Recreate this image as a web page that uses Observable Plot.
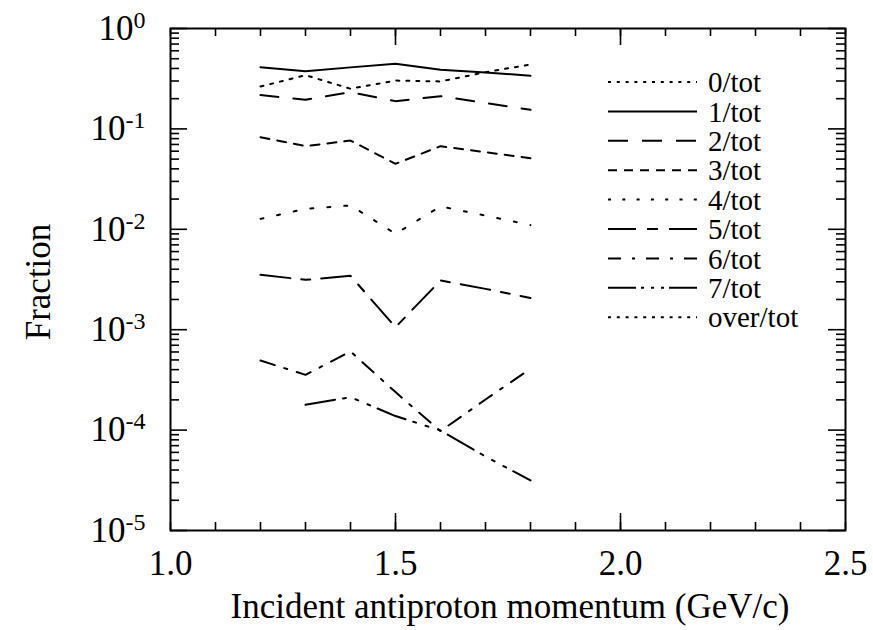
<!DOCTYPE html>
<html><head><meta charset="utf-8">
<script src="https://cdn.jsdelivr.net/npm/d3@7"></script>
<script src="https://cdn.jsdelivr.net/npm/@observablehq/plot@0.6"></script>
<style>
body{margin:0;background:#fff}
#chart{width:873px;height:630px}
</style>
</head><body><div id="chart"></div>
<script>
// ---- data ----
const momentum = [1.2, 1.3, 1.4, 1.5, 1.6, 1.7, 1.8];
const seriesNames = ["0/tot","1/tot","2/tot","3/tot","4/tot","5/tot","6/tot","7/tot","over/tot"];
const frac0 = [0.264, 0.343, 0.251, 0.303, 0.297, 0.367, 0.438];
const frac1 = [0.412, 0.376, 0.410, 0.445, 0.388, 0.365, 0.338];
const frac2 = [0.217, 0.195, 0.232, 0.189, 0.212, 0.181, 0.155];
const frac3 = [0.0827, 0.0673, 0.0766, 0.0449, 0.0673, 0.0586, 0.0511];
const frac4 = [0.0127, 0.0160, 0.0173, 0.00902, 0.0169, 0.0137, 0.0110];
const frac5 = [0.00352, 0.00314, 0.00344, 0.00106, 0.00309, 0.00255, 0.00207];
const frac6 = [0.000493, 0.000355, 0.000607, 0.000239, 0.0000976, 0.000202, 0.000408];
const frac7 = [null, 0.000179, 0.000213, 0.000138, 0.0000991, 0.0000546, 0.0000315];
const fracOver = [null, null, null, null, null, null, null];
const xTickValues = [1.0,1.1,1.2,1.3,1.4,1.5,1.6,1.7,1.8,1.9,2.0,2.1,2.2,2.3,2.4,2.5];
const xMajorTicks = [1.5, 2.0];
const xTickLabels = [1.0, 1.5, 2.0, 2.5];
const yExponents = [-5, -4, -3, -2, -1, 0];
const xTitle = "Incident antiproton momentum (GeV/c)";
const yTitle = "Fraction";

// ---- styles ----
const dashes = ["3,7", null, "18,15", "9,8", "3,14", "30,11,9,11", "15,10,3,10", "30,8,3,10,3,10,3,8", "3,7"];
const legendDashes = ["3,5.8", null, "20,14", "9,7", "3,11.3", "28,11,11,11", "13,11,3,11", "28,5,3,7,3,7,3,5", "3,5.8"];

const values = [frac0, frac1, frac2, frac3, frac4, frac5, frac6, frac7, fracOver];
const table = seriesNames.map((name, i) =>
  momentum.map((x, j) => ({series: name, x, y: values[i][j]})).filter(d => d.y != null));

const yMajor = yExponents.map(e => Math.pow(10, e));
const yMinor = yExponents.slice(0, -1).flatMap(e => d3.range(2, 10).map(k => k * Math.pow(10, e)));

const W = 873, H = 630, mL = 170, mR = 28, mT = 28, mB = 100;
const pw = W - mL - mR, ph = H - mT - mB;

const chart = Plot.plot({
  width: W, height: H,
  marginLeft: mL, marginRight: mR, marginTop: mT, marginBottom: mB,
  style: {fontFamily: "'Liberation Serif','Times New Roman',serif", fontSize: "35px", color: "black", background: "white", overflow: "visible"},
  x: {type: "linear", domain: [1.0, 2.5]},
  y: {type: "log", domain: [1e-5, 1]},
  marks: [
    // inward ticks, bottom & top
    Plot.tickX(xTickValues, {x: d => d, insetTop: ph - 8, strokeWidth: 1.6}),
    Plot.tickX(xTickValues, {x: d => d, insetBottom: ph - 8, strokeWidth: 1.6}),
    Plot.tickX(xMajorTicks, {x: d => d, insetTop: ph - 17, strokeWidth: 1.6}),
    Plot.tickX(xMajorTicks, {x: d => d, insetBottom: ph - 17, strokeWidth: 1.6}),
    // inward ticks, left & right
    Plot.tickY(yMinor, {y: d => d, insetRight: pw - 9, strokeWidth: 1.6}),
    Plot.tickY(yMinor, {y: d => d, insetLeft: pw - 9, strokeWidth: 1.6}),
    Plot.tickY(yMajor, {y: d => d, insetRight: pw - 17, strokeWidth: 1.6}),
    Plot.tickY(yMajor, {y: d => d, insetLeft: pw - 17, strokeWidth: 1.6}),
    Plot.axisX(xTickLabels, {tickSize: 0, tickPadding: 20, tickFormat: d => d.toFixed(1), label: null}),
    Plot.axisY(yMajor, {tickSize: 0, tickPadding: 25, tickFormat: d => "10^" + Math.round(Math.log10(d)), label: null}),
    ...table.map((rows, i) => Plot.line(rows, {x: "x", y: "y", stroke: "black", strokeWidth: 2, strokeDasharray: dashes[i]})),
    Plot.frame({stroke: "black", strokeWidth: 2})
  ]
});
document.getElementById("chart").appendChild(chart);

const svg = d3.select(chart);
// superscript exponents on y tick labels
svg.selectAll('g[aria-label="y-axis tick label"] text').each(function() {
  const t = d3.select(this);
  const parts = t.text().split("^");
  if (parts.length !== 2) return;
  t.text(null);
  t.append("tspan").text(parts[0]);
  t.append("tspan").attr("dy", "-0.5em").attr("font-size", "24px").text(parts[1]);
});

// axis titles
svg.append("text").attr("x", 510).attr("y", 618).attr("text-anchor", "middle")
  .attr("font-size", 35).attr("fill", "black").text(xTitle);
svg.append("text").attr("transform", "translate(50,282) rotate(-90)").attr("text-anchor", "middle")
  .attr("font-size", 35).attr("fill", "black").text(yTitle);

// legend
const lg = svg.append("g").attr("aria-label", "legend");
seriesNames.forEach((name, i) => {
  const y = 82 + i * 29.4;
  lg.append("line").attr("x1", 608).attr("x2", 697).attr("y1", y).attr("y2", y)
    .attr("stroke", "black").attr("stroke-width", 2)
    .attr("stroke-dasharray", legendDashes[i]);
  lg.append("text").attr("x", 708).attr("y", y).attr("dy", "0.35em")
    .attr("text-anchor", "start")
    .attr("font-size", 29).attr("fill", "black").text(name);
});
</script>
</body></html>
